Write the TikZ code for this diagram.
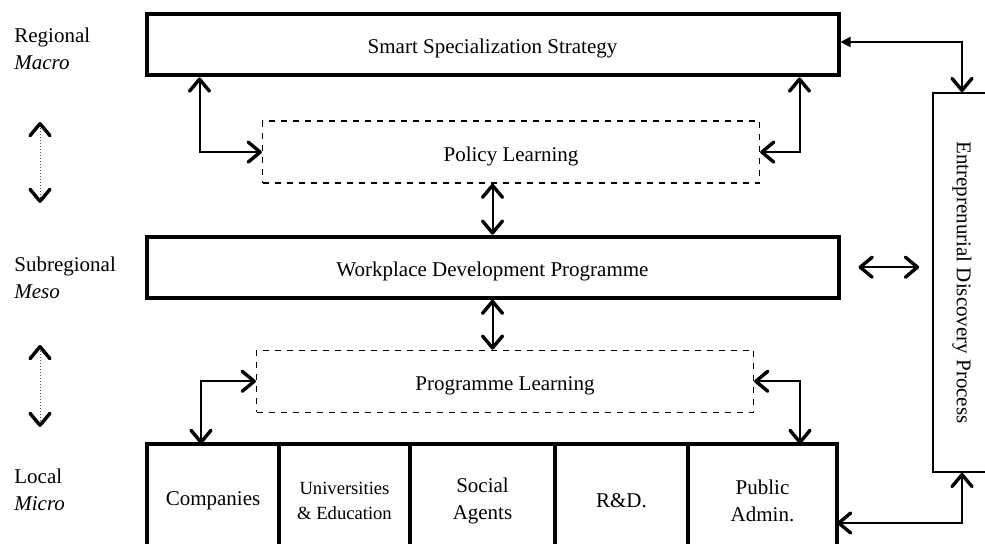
\documentclass[tikz,border=0pt]{standalone}
\usepackage{fontspec}
\setmainfont{Liberation Serif}
\usetikzlibrary{arrows.meta,positioning}

\begin{document}
\begin{tikzpicture}[
  x=0.5pt, y=-0.5pt,
  every node/.style={font=\fontsize{10.5pt}{13.5pt}\selectfont},
  tier/.style={draw, line width=2pt, minimum width=346pt, minimum height=30.5pt,
               text height=9pt, text depth=0pt},
  learn/.style={draw, dashed, line width=0.6pt, minimum width=248.5pt, minimum height=31pt,
                text height=9pt, text depth=0pt},
  unit/.style={draw, line width=2pt, outer sep=0pt, minimum height=57pt, align=center},
  edpbox/.style={draw, line width=0.9pt, minimum width=29pt, minimum height=189.5pt},
  tag/.style={anchor=west, align=left, inner sep=0pt},
  >={Straight Barb[length=6pt, width=10pt, line width=1.7pt, round]},
  link/.style={draw, line width=1pt, <->},
  level/.style={draw, line width=0.5pt, densely dotted, black!70,
                {Straight Barb[length=6pt, width=10pt, line width=1.7pt, round, color=black]}-{Straight Barb[length=6pt, width=10pt, line width=1.7pt, round, color=black]}}
]
\useasboundingbox (0,0) rectangle (985,544);
% Levels on the left
\node[tag] (regional) at (14,49) {Regional\\\textit{Macro}};
\node[tag] (subregional) at (14,278) {Subregional\\\textit{Meso}};
\node[tag] (local) at (14,490) {Local\\\textit{Micro}};
\coordinate (up1) at (40,122);
\coordinate (dn1) at (40,203);
\coordinate (up2) at (40,345);
\coordinate (dn2) at (40,427);
% Strategy, programme and learning boxes
\node[tier] (sss) at (492.5,45) {Smart Specialization Strategy};
\node[learn, below=21.5pt of sss, xshift=9.25pt] (polL) {Policy Learning};
\node[tier, below=25.5pt of polL, xshift=-9.25pt] (wdp) {Workplace Development Programme};
\node[learn, below=25pt of wdp, xshift=6.25pt] (progL) {Programme Learning};
% Local actors
\node[unit, minimum width=66pt, anchor=north west] (comp) at (147,444) {Companies};
\node[unit, minimum width=65.5pt, right=0pt of comp, font=\fontsize{9.3pt}{12.5pt}\selectfont] (univ) {Universities\\\& Education};
\node[unit, minimum width=72.5pt, right=0pt of univ] (social) {Social\\Agents};
\node[unit, minimum width=66.5pt, right=0pt of social] (rnd) {R\&D.};
\node[unit, minimum width=74.5pt, right=0pt of rnd] (admin) {Public\\Admin.};
% Discovery process
\node[edpbox] (edp) at (962,282.5) {\rotatebox{-90}{Entreprenurial Discovery Process}};
% Connections
\draw[level] (up1) -- (dn1);
\draw[level] (up2) -- (dn2);
\draw[link] ([xshift=27.5pt]sss.south west) |- (polL.west);
\draw[link] ([xshift=-20.5pt]sss.south east) |- (polL.east);
\draw[link] (wdp.north |- polL.south) -- (wdp.north);
\draw[link] (wdp.south) -- (wdp.south |- progL.north);
\draw[link] (progL.west) -| ([xshift=27pt]comp.north west);
\draw[link] (progL.east) -| ([xshift=-18.5pt]admin.north east);
\draw[link, {Triangle[length=5pt, width=5pt]}->] ([yshift=1.5pt]sss.east) -| (edp.north);
\draw[link] ([yshift=-11pt]admin.east) -| (edp.south);
\draw[link, shorten <=9pt, shorten >=6.5pt] (wdp.east) -- (wdp.east -| edp.west);
\end{tikzpicture}
\end{document}
